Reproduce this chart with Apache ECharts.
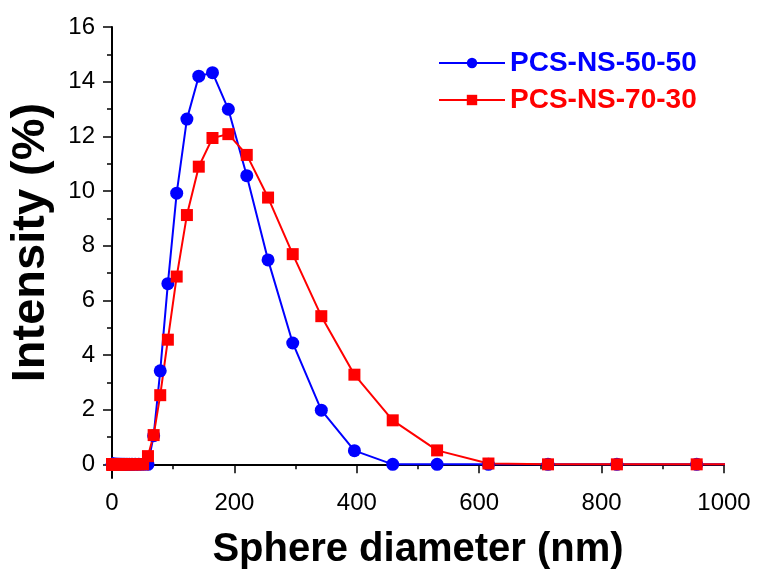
<!DOCTYPE html>
<html>
<head>
<meta charset="utf-8">
<script src="https://cdn.jsdelivr.net/npm/echarts@6/dist/echarts.min.js"></script>
<style>
html,body{margin:0;padding:0;background:#fff;}
#chart{width:760px;height:582px;}
</style>
</head>
<body>
<div id="chart"></div>
<script>
// Size bins (nm)
var diameters = [0.4, 0.4632, 0.5365, 0.6213, 0.7195, 0.8332, 0.9649, 1.117, 1.294, 1.499,
  1.736, 2.01, 2.328, 2.696, 3.122, 3.615, 4.187, 4.849, 5.615, 6.503,
  7.531, 8.721, 10.1, 11.7, 13.54, 15.69, 18.17, 21.04, 24.36, 28.21,
  32.67, 37.84, 43.82, 50.75, 58.77, 68.06, 78.82, 91.28, 105.7, 122.4,
  141.8, 164.2, 190.1, 220.2, 255.0, 295.3, 342.0, 396.1, 458.7, 531.2,
  615.1, 712.4, 825.0, 955.4, 1106];
var seriesNames = ['PCS-NS-50-50', 'PCS-NS-70-30'];
var intensity5050 = [0, 0, 0, 0, 0, 0, 0, 0, 0, 0,
  0, 0, 0, 0, 0, 0, 0, 0, 0, 0,
  0, 0, 0, 0, 0, 0, 0, 0, 0, 0,
  0, 0, 0, 0, 0, 1.05, 3.42, 6.61, 9.92, 12.63,
  14.2, 14.33, 12.99, 10.56, 7.48, 4.44, 1.98, 0.5, 0, 0,
  0, 0, 0, 0, 0];
var intensity7030 = [0, 0, 0, 0, 0, 0, 0, 0, 0, 0,
  0, 0, 0, 0, 0, 0, 0, 0, 0, 0,
  0, 0, 0, 0, 0, 0, 0, 0, 0, 0,
  0, 0, 0, 0, 0.3, 1.07, 2.53, 4.56, 6.87, 9.12,
  10.89, 11.94, 12.08, 11.32, 9.76, 7.69, 5.42, 3.28, 1.61, 0.51,
  0.03, 0, 0, 0, 0];
var yMajorTicks = [0, 2, 4, 6, 8, 10, 12, 14, 16];
var yMinorTicks = [1, 3, 5, 7, 9, 11, 13, 15];

function pairs(xs, ys) { return xs.map(function (x, i) { return [x, ys[i]]; }); }

var FONT = '"Liberation Sans", Arial, sans-serif';
var chart = echarts.init(document.getElementById('chart'), null, {renderer: 'canvas'});
var legendCommon = {
  left: 433, itemWidth: 66, itemHeight: 13, itemGap: 10,
  textStyle: {fontFamily: FONT, fontWeight: 'bold', fontSize: 28},
  selectedMode: false
};
chart.setOption({
  animation: false,
  backgroundColor: '#ffffff',
  grid: {left: 112, right: 36, top: 27, bottom: 104, containLabel: false, outerBoundsMode: 'none'},
  legend: [
    Object.assign({}, legendCommon, {top: 44, data: [{name: seriesNames[0], textStyle: {color: '#0000ff'}}]}),
    Object.assign({}, legendCommon, {top: 81, data: [{name: seriesNames[1], textStyle: {color: '#ff0000'}}]})
  ],
  xAxis: {
    type: 'value', min: 0, max: 1000, interval: 200,
    name: 'Sphere diameter (nm)', nameLocation: 'middle', nameGap: 52,
    nameTextStyle: {fontFamily: FONT, fontWeight: 'bold', fontSize: 40, color: '#000'},
    axisLine: {lineStyle: {color: '#000', width: 2}},
    axisTick: {length: 9, lineStyle: {color: '#000', width: 1.5}},
    minorTick: {show: true, splitNumber: 2, length: 5, lineStyle: {color: '#000', width: 1.5}},
    axisLabel: {fontFamily: FONT, fontSize: 24, color: '#000', margin: 13,
      formatter: function (v) { return String(v); }},
    splitLine: {show: false}
  },
  yAxis: [{
    type: 'value', min: -0.5, max: 16,
    name: 'Intensity (%)', nameLocation: 'middle', nameGap: 57,
    nameTextStyle: {fontFamily: FONT, fontWeight: 'bold', fontSize: 47, color: '#000', padding: [0, 0, 0, 20]},
    axisLine: {show: true, lineStyle: {color: '#000', width: 2}},
    axisTick: {show: true, length: 9, customValues: yMajorTicks, lineStyle: {color: '#000', width: 1.5}},
    axisLabel: {fontFamily: FONT, fontSize: 24, color: '#000', margin: 17, customValues: yMajorTicks},
    splitLine: {show: false}
  }, {
    type: 'value', min: -0.5, max: 16, position: 'left', offset: 0,
    axisLine: {show: false},
    axisTick: {show: true, length: 5, customValues: yMinorTicks, lineStyle: {color: '#000', width: 1.5}},
    axisLabel: {show: false},
    splitLine: {show: false}
  }],
  series: [{
    name: seriesNames[0], type: 'line', yAxisIndex: 0,
    data: pairs(diameters, intensity5050),
    symbol: 'circle', symbolSize: 13,
    itemStyle: {color: '#0000ff'}, lineStyle: {color: '#0000ff', width: 2},
    clip: true
  }, {
    name: seriesNames[1], type: 'line', yAxisIndex: 0,
    data: pairs(diameters, intensity7030),
    symbol: 'rect', symbolSize: 12,
    itemStyle: {color: '#ff0000'}, lineStyle: {color: '#ff0000', width: 2},
    clip: true
  }]
});
</script>
</body>
</html>
